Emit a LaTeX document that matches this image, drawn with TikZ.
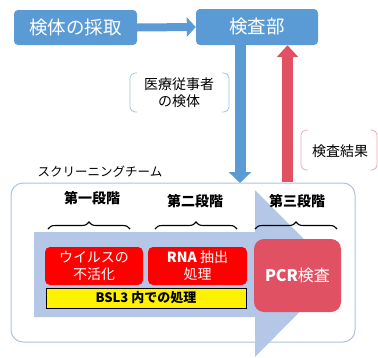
\documentclass[tikz,border=0pt]{standalone}
\usepackage{fontspec}
\setmainfont{Noto Sans CJK JP}
\usetikzlibrary{arrows.meta,decorations.pathreplacing}
\definecolor{topblue}{HTML}{5B9BD5}
\definecolor{resred}{HTML}{E05263}
\definecolor{bigarrow}{HTML}{B4C7E7}
\definecolor{frameblue}{HTML}{AFC3E0}
\definecolor{brblue}{HTML}{9DC3E6}
\definecolor{brpink}{HTML}{F4A6AE}
\begin{document}
\begin{tikzpicture}[x=1pt,y=-1pt,
  topbox/.style={fill=topblue,rounded corners=4pt,text=white,inner sep=0pt,
    font=\fontsize{18.5}{22}\selectfont},
  stagelbl/.style={font=\bfseries\fontsize{14}{16}\selectfont,inner sep=0pt},
  redbox/.style={fill=red,rounded corners=5pt,text=white,inner sep=0pt,align=center,
    font=\fontsize{14}{17}\selectfont},
  bracelbl/.style={decorate,decoration={brace,amplitude=7pt},line width=1.1pt},
  note/.style={font=\fontsize{14}{17}\selectfont,align=center,inner sep=0pt},
  bracket/.style={line width=0.8pt,rounded corners=5pt}]
\useasboundingbox (0,0) rectangle (378,357);
% top boxes
\node[topbox,minimum width=123pt,minimum height=35pt] (a) at (75.5,27.5) {検体の採取};
\node[topbox,minimum width=122pt,minimum height=36pt] (b) at (257,27) {検査部};
\draw[topblue,line width=8pt,-{Triangle[length=9pt,width=19pt]}] (a.east) -- (b.west);
% down and up arrows
\coordinate (dnend) at (240,183);
\coordinate (upstart) at (287.5,182);
\draw[topblue,line width=11pt,-{Triangle[length=11pt,width=22pt]}] (b.south -| dnend) -- (dnend);
\draw[resred,line width=11pt,-{Triangle[length=12pt,width=21pt]}] (upstart) -- (b.south -| upstart);
% notes with brackets
\node[note] (n1) at (179,93) {医療従事者\\の検体};
\draw[bracket,brblue] (137,73) -- (130,73) -- (130,112) -- (137,112);
\draw[bracket,brblue] (222,73) -- (229,73) -- (229,112) -- (222,112);
\node[note] (n2) at (340,151) {検査結果};
\draw[bracket,brpink] (308,130) -- (301,130) -- (301,170) -- (308,170);
\draw[bracket,brpink] (370,130) -- (377,130) -- (377,170) -- (370,170);
% team label
\node[inner sep=0pt,font=\fontsize{12.5}{14}\selectfont] (team) at (100,172) {スクリーニングチーム};
% outer frame
\draw[frameblue,fill=white,line width=1pt,rounded corners=12pt] (11,183) rectangle (355,342);
% big arrow
\fill[bigarrow] (34,232) -- (255,232) -- (255,190) -- (338,273) -- (255,357) -- (255,317) -- (34,317) -- cycle;
% stage labels
\node[stagelbl] (s1) at (92,198) {第一段階};
\node[stagelbl] (s2) at (195,201) {第二段階};
\node[stagelbl] (s3) at (297,201) {第三段階};
\draw[bracelbl] (48,229) -- (130,229);
\draw[bracelbl] (155,229) -- (237,229);
\draw[bracelbl] (255,229) -- (337,229);
% boxes
\node[redbox,minimum width=98pt,minimum height=38pt] (r1) at (94,266) {ウイルスの\\不活化};
\node[redbox,minimum width=99pt,minimum height=38pt] (r2) at (197.5,266) {\textbf{RNA} 抽出\\処理};
\node[draw=black,line width=0.6pt,fill=yellow,minimum width=200pt,minimum height=20pt,inner sep=0pt,
  font=\bfseries\fontsize{13}{15}\selectfont] (y) at (146,298) {BSL3 内での処理};
\node[fill=resred,rounded corners=10pt,minimum width=87pt,minimum height=73pt,text=white,inner sep=0pt,
  font=\fontsize{16}{18}\selectfont] (pcr) at (297.5,275.5) {\textbf{PCR}検査};
\end{tikzpicture}
\end{document}
